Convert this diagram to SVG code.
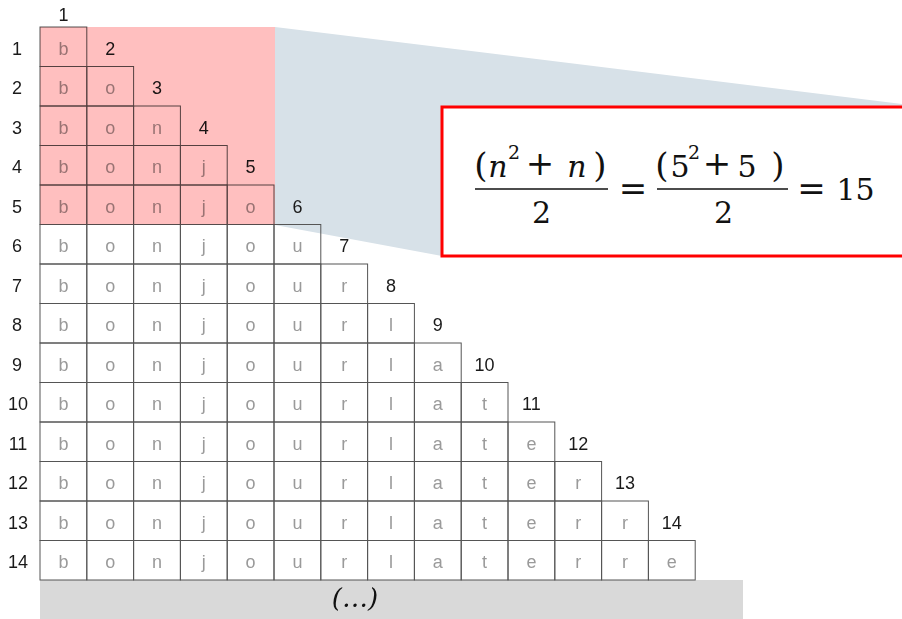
<svg xmlns="http://www.w3.org/2000/svg" width="902" height="619" viewBox="0 0 902 619">
<style>
.cell{fill:none;stroke:#555;stroke-width:1}
.ch{font-family:"Liberation Sans",Arial,sans-serif;font-size:18px;fill:#9a9a9a;text-anchor:middle}
.lb{font-family:"Liberation Sans",Arial,sans-serif;font-size:18px;fill:#1a1a1a;text-anchor:middle}
.m{font-family:"DejaVu Serif",serif;font-size:30px;fill:#111;text-anchor:middle}
.i{font-style:italic}
.p{font-size:34px}
.op{font-size:34px}
.sup{font-size:19px}
.bar{stroke:#111;stroke-width:1.6}
</style>
<rect width="902" height="619" fill="#fff"/>
<g id="zoom-wedge"><polygon points="275,27 902,104 902,256 442,256 275,225" fill="#d7e1e8"/></g>
<g id="ellipsis-bar"><rect x="40" y="580" width="703" height="39" fill="#d9d9d9"/><text x="355" y="607" font-family="DejaVu Serif,serif" font-style="italic" font-size="26" text-anchor="middle" fill="#111">(…)</text></g>
<g id="grid">
<g id="row1"><rect class="cell" x="40" y="27" width="46.8" height="39.5"/><text class="ch" x="63.4" y="54.5">b</text></g>
<g id="row2"><rect class="cell" x="40" y="66.5" width="46.8" height="39.5"/><rect class="cell" x="86.8" y="66.5" width="46.8" height="39.5"/><text class="ch" x="63.4" y="94">b</text><text class="ch" x="110.2" y="94">o</text></g>
<g id="row3"><rect class="cell" x="40" y="106" width="46.8" height="39.5"/><rect class="cell" x="86.8" y="106" width="46.8" height="39.5"/><rect class="cell" x="133.6" y="106" width="46.8" height="39.5"/><text class="ch" x="63.4" y="133.5">b</text><text class="ch" x="110.2" y="133.5">o</text><text class="ch" x="157" y="133.5">n</text></g>
<g id="row4"><rect class="cell" x="40" y="145.5" width="46.8" height="39.5"/><rect class="cell" x="86.8" y="145.5" width="46.8" height="39.5"/><rect class="cell" x="133.6" y="145.5" width="46.8" height="39.5"/><rect class="cell" x="180.4" y="145.5" width="46.8" height="39.5"/><text class="ch" x="63.4" y="173">b</text><text class="ch" x="110.2" y="173">o</text><text class="ch" x="157" y="173">n</text><text class="ch" x="203.8" y="173">j</text></g>
<g id="row5"><rect class="cell" x="40" y="185" width="46.8" height="39.5"/><rect class="cell" x="86.8" y="185" width="46.8" height="39.5"/><rect class="cell" x="133.6" y="185" width="46.8" height="39.5"/><rect class="cell" x="180.4" y="185" width="46.8" height="39.5"/><rect class="cell" x="227.2" y="185" width="46.8" height="39.5"/><text class="ch" x="63.4" y="212.5">b</text><text class="ch" x="110.2" y="212.5">o</text><text class="ch" x="157" y="212.5">n</text><text class="ch" x="203.8" y="212.5">j</text><text class="ch" x="250.6" y="212.5">o</text></g>
<g id="row6"><rect class="cell" x="40" y="224.5" width="46.8" height="39.5"/><rect class="cell" x="86.8" y="224.5" width="46.8" height="39.5"/><rect class="cell" x="133.6" y="224.5" width="46.8" height="39.5"/><rect class="cell" x="180.4" y="224.5" width="46.8" height="39.5"/><rect class="cell" x="227.2" y="224.5" width="46.8" height="39.5"/><rect class="cell" x="274" y="224.5" width="46.8" height="39.5"/><text class="ch" x="63.4" y="252">b</text><text class="ch" x="110.2" y="252">o</text><text class="ch" x="157" y="252">n</text><text class="ch" x="203.8" y="252">j</text><text class="ch" x="250.6" y="252">o</text><text class="ch" x="297.4" y="252">u</text></g>
<g id="row7"><rect class="cell" x="40" y="264" width="46.8" height="39.5"/><rect class="cell" x="86.8" y="264" width="46.8" height="39.5"/><rect class="cell" x="133.6" y="264" width="46.8" height="39.5"/><rect class="cell" x="180.4" y="264" width="46.8" height="39.5"/><rect class="cell" x="227.2" y="264" width="46.8" height="39.5"/><rect class="cell" x="274" y="264" width="46.8" height="39.5"/><rect class="cell" x="320.8" y="264" width="46.8" height="39.5"/><text class="ch" x="63.4" y="291.5">b</text><text class="ch" x="110.2" y="291.5">o</text><text class="ch" x="157" y="291.5">n</text><text class="ch" x="203.8" y="291.5">j</text><text class="ch" x="250.6" y="291.5">o</text><text class="ch" x="297.4" y="291.5">u</text><text class="ch" x="344.2" y="291.5">r</text></g>
<g id="row8"><rect class="cell" x="40" y="303.5" width="46.8" height="39.5"/><rect class="cell" x="86.8" y="303.5" width="46.8" height="39.5"/><rect class="cell" x="133.6" y="303.5" width="46.8" height="39.5"/><rect class="cell" x="180.4" y="303.5" width="46.8" height="39.5"/><rect class="cell" x="227.2" y="303.5" width="46.8" height="39.5"/><rect class="cell" x="274" y="303.5" width="46.8" height="39.5"/><rect class="cell" x="320.8" y="303.5" width="46.8" height="39.5"/><rect class="cell" x="367.6" y="303.5" width="46.8" height="39.5"/><text class="ch" x="63.4" y="331">b</text><text class="ch" x="110.2" y="331">o</text><text class="ch" x="157" y="331">n</text><text class="ch" x="203.8" y="331">j</text><text class="ch" x="250.6" y="331">o</text><text class="ch" x="297.4" y="331">u</text><text class="ch" x="344.2" y="331">r</text><text class="ch" x="391" y="331">l</text></g>
<g id="row9"><rect class="cell" x="40" y="343" width="46.8" height="39.5"/><rect class="cell" x="86.8" y="343" width="46.8" height="39.5"/><rect class="cell" x="133.6" y="343" width="46.8" height="39.5"/><rect class="cell" x="180.4" y="343" width="46.8" height="39.5"/><rect class="cell" x="227.2" y="343" width="46.8" height="39.5"/><rect class="cell" x="274" y="343" width="46.8" height="39.5"/><rect class="cell" x="320.8" y="343" width="46.8" height="39.5"/><rect class="cell" x="367.6" y="343" width="46.8" height="39.5"/><rect class="cell" x="414.4" y="343" width="46.8" height="39.5"/><text class="ch" x="63.4" y="370.5">b</text><text class="ch" x="110.2" y="370.5">o</text><text class="ch" x="157" y="370.5">n</text><text class="ch" x="203.8" y="370.5">j</text><text class="ch" x="250.6" y="370.5">o</text><text class="ch" x="297.4" y="370.5">u</text><text class="ch" x="344.2" y="370.5">r</text><text class="ch" x="391" y="370.5">l</text><text class="ch" x="437.8" y="370.5">a</text></g>
<g id="row10"><rect class="cell" x="40" y="382.5" width="46.8" height="39.5"/><rect class="cell" x="86.8" y="382.5" width="46.8" height="39.5"/><rect class="cell" x="133.6" y="382.5" width="46.8" height="39.5"/><rect class="cell" x="180.4" y="382.5" width="46.8" height="39.5"/><rect class="cell" x="227.2" y="382.5" width="46.8" height="39.5"/><rect class="cell" x="274" y="382.5" width="46.8" height="39.5"/><rect class="cell" x="320.8" y="382.5" width="46.8" height="39.5"/><rect class="cell" x="367.6" y="382.5" width="46.8" height="39.5"/><rect class="cell" x="414.4" y="382.5" width="46.8" height="39.5"/><rect class="cell" x="461.2" y="382.5" width="46.8" height="39.5"/><text class="ch" x="63.4" y="410">b</text><text class="ch" x="110.2" y="410">o</text><text class="ch" x="157" y="410">n</text><text class="ch" x="203.8" y="410">j</text><text class="ch" x="250.6" y="410">o</text><text class="ch" x="297.4" y="410">u</text><text class="ch" x="344.2" y="410">r</text><text class="ch" x="391" y="410">l</text><text class="ch" x="437.8" y="410">a</text><text class="ch" x="484.6" y="410">t</text></g>
<g id="row11"><rect class="cell" x="40" y="422" width="46.8" height="39.5"/><rect class="cell" x="86.8" y="422" width="46.8" height="39.5"/><rect class="cell" x="133.6" y="422" width="46.8" height="39.5"/><rect class="cell" x="180.4" y="422" width="46.8" height="39.5"/><rect class="cell" x="227.2" y="422" width="46.8" height="39.5"/><rect class="cell" x="274" y="422" width="46.8" height="39.5"/><rect class="cell" x="320.8" y="422" width="46.8" height="39.5"/><rect class="cell" x="367.6" y="422" width="46.8" height="39.5"/><rect class="cell" x="414.4" y="422" width="46.8" height="39.5"/><rect class="cell" x="461.2" y="422" width="46.8" height="39.5"/><rect class="cell" x="508" y="422" width="46.8" height="39.5"/><text class="ch" x="63.4" y="449.5">b</text><text class="ch" x="110.2" y="449.5">o</text><text class="ch" x="157" y="449.5">n</text><text class="ch" x="203.8" y="449.5">j</text><text class="ch" x="250.6" y="449.5">o</text><text class="ch" x="297.4" y="449.5">u</text><text class="ch" x="344.2" y="449.5">r</text><text class="ch" x="391" y="449.5">l</text><text class="ch" x="437.8" y="449.5">a</text><text class="ch" x="484.6" y="449.5">t</text><text class="ch" x="531.4" y="449.5">e</text></g>
<g id="row12"><rect class="cell" x="40" y="461.5" width="46.8" height="39.5"/><rect class="cell" x="86.8" y="461.5" width="46.8" height="39.5"/><rect class="cell" x="133.6" y="461.5" width="46.8" height="39.5"/><rect class="cell" x="180.4" y="461.5" width="46.8" height="39.5"/><rect class="cell" x="227.2" y="461.5" width="46.8" height="39.5"/><rect class="cell" x="274" y="461.5" width="46.8" height="39.5"/><rect class="cell" x="320.8" y="461.5" width="46.8" height="39.5"/><rect class="cell" x="367.6" y="461.5" width="46.8" height="39.5"/><rect class="cell" x="414.4" y="461.5" width="46.8" height="39.5"/><rect class="cell" x="461.2" y="461.5" width="46.8" height="39.5"/><rect class="cell" x="508" y="461.5" width="46.8" height="39.5"/><rect class="cell" x="554.8" y="461.5" width="46.8" height="39.5"/><text class="ch" x="63.4" y="489">b</text><text class="ch" x="110.2" y="489">o</text><text class="ch" x="157" y="489">n</text><text class="ch" x="203.8" y="489">j</text><text class="ch" x="250.6" y="489">o</text><text class="ch" x="297.4" y="489">u</text><text class="ch" x="344.2" y="489">r</text><text class="ch" x="391" y="489">l</text><text class="ch" x="437.8" y="489">a</text><text class="ch" x="484.6" y="489">t</text><text class="ch" x="531.4" y="489">e</text><text class="ch" x="578.2" y="489">r</text></g>
<g id="row13"><rect class="cell" x="40" y="501" width="46.8" height="39.5"/><rect class="cell" x="86.8" y="501" width="46.8" height="39.5"/><rect class="cell" x="133.6" y="501" width="46.8" height="39.5"/><rect class="cell" x="180.4" y="501" width="46.8" height="39.5"/><rect class="cell" x="227.2" y="501" width="46.8" height="39.5"/><rect class="cell" x="274" y="501" width="46.8" height="39.5"/><rect class="cell" x="320.8" y="501" width="46.8" height="39.5"/><rect class="cell" x="367.6" y="501" width="46.8" height="39.5"/><rect class="cell" x="414.4" y="501" width="46.8" height="39.5"/><rect class="cell" x="461.2" y="501" width="46.8" height="39.5"/><rect class="cell" x="508" y="501" width="46.8" height="39.5"/><rect class="cell" x="554.8" y="501" width="46.8" height="39.5"/><rect class="cell" x="601.6" y="501" width="46.8" height="39.5"/><text class="ch" x="63.4" y="528.5">b</text><text class="ch" x="110.2" y="528.5">o</text><text class="ch" x="157" y="528.5">n</text><text class="ch" x="203.8" y="528.5">j</text><text class="ch" x="250.6" y="528.5">o</text><text class="ch" x="297.4" y="528.5">u</text><text class="ch" x="344.2" y="528.5">r</text><text class="ch" x="391" y="528.5">l</text><text class="ch" x="437.8" y="528.5">a</text><text class="ch" x="484.6" y="528.5">t</text><text class="ch" x="531.4" y="528.5">e</text><text class="ch" x="578.2" y="528.5">r</text><text class="ch" x="625" y="528.5">r</text></g>
<g id="row14"><rect class="cell" x="40" y="540.5" width="46.8" height="39.5"/><rect class="cell" x="86.8" y="540.5" width="46.8" height="39.5"/><rect class="cell" x="133.6" y="540.5" width="46.8" height="39.5"/><rect class="cell" x="180.4" y="540.5" width="46.8" height="39.5"/><rect class="cell" x="227.2" y="540.5" width="46.8" height="39.5"/><rect class="cell" x="274" y="540.5" width="46.8" height="39.5"/><rect class="cell" x="320.8" y="540.5" width="46.8" height="39.5"/><rect class="cell" x="367.6" y="540.5" width="46.8" height="39.5"/><rect class="cell" x="414.4" y="540.5" width="46.8" height="39.5"/><rect class="cell" x="461.2" y="540.5" width="46.8" height="39.5"/><rect class="cell" x="508" y="540.5" width="46.8" height="39.5"/><rect class="cell" x="554.8" y="540.5" width="46.8" height="39.5"/><rect class="cell" x="601.6" y="540.5" width="46.8" height="39.5"/><rect class="cell" x="648.4" y="540.5" width="46.8" height="39.5"/><text class="ch" x="63.4" y="568">b</text><text class="ch" x="110.2" y="568">o</text><text class="ch" x="157" y="568">n</text><text class="ch" x="203.8" y="568">j</text><text class="ch" x="250.6" y="568">o</text><text class="ch" x="297.4" y="568">u</text><text class="ch" x="344.2" y="568">r</text><text class="ch" x="391" y="568">l</text><text class="ch" x="437.8" y="568">a</text><text class="ch" x="484.6" y="568">t</text><text class="ch" x="531.4" y="568">e</text><text class="ch" x="578.2" y="568">r</text><text class="ch" x="625" y="568">r</text><text class="ch" x="671.8" y="568">e</text></g>
</g>
<g id="row-labels">
<text class="lb" x="17" y="54.5">1</text><text class="lb" x="17" y="94">2</text><text class="lb" x="17" y="133.5">3</text><text class="lb" x="17" y="173">4</text><text class="lb" x="17" y="212.5">5</text><text class="lb" x="17" y="252">6</text><text class="lb" x="17" y="291.5">7</text><text class="lb" x="17" y="331">8</text><text class="lb" x="17" y="370.5">9</text><text class="lb" x="18" y="410">10</text><text class="lb" x="18" y="449.5">11</text><text class="lb" x="18" y="489">12</text><text class="lb" x="18" y="528.5">13</text><text class="lb" x="18" y="568">14</text>
</g>
<g id="column-labels">
<text class="lb" x="63.4" y="21">1</text><text class="lb" x="110.2" y="54.5">2</text><text class="lb" x="157" y="94">3</text><text class="lb" x="203.8" y="133.5">4</text><text class="lb" x="250.6" y="173">5</text><text class="lb" x="297.4" y="212.5">6</text><text class="lb" x="344.2" y="252">7</text><text class="lb" x="391" y="291.5">8</text><text class="lb" x="437.8" y="331">9</text><text class="lb" x="484.6" y="370.5">10</text><text class="lb" x="531.4" y="410">11</text><text class="lb" x="578.2" y="449.5">12</text><text class="lb" x="625" y="489">13</text><text class="lb" x="671.8" y="528.5">14</text>
</g>
<g id="highlight"><rect x="40" y="27" width="235" height="197.5" fill="#ffbfbf" style="mix-blend-mode:multiply"/></g>
<g id="formula-box">
<rect x="442" y="107" width="470" height="149" fill="#fff" stroke="#f00" stroke-width="3"/>
<text class="m"><tspan class="p" x="481" y="177">(</tspan><tspan class="i" x="498" y="177">n</tspan><tspan class="sup" x="514" y="159">2</tspan><tspan class="op" x="540" y="175">+</tspan><tspan class="i" x="577" y="177">n</tspan><tspan class="p" x="600" y="177">)</tspan></text>
<line class="bar" x1="475" y1="189" x2="608" y2="189"/>
<text class="m" x="541.5" y="223">2</text>
<text class="m op" x="633" y="200">=</text>
<text class="m"><tspan class="p" x="662" y="177">(</tspan><tspan x="680" y="177">5</tspan><tspan class="sup" x="694" y="159">2</tspan><tspan class="op" x="717" y="175">+</tspan><tspan x="747" y="177">5</tspan><tspan class="p" x="778" y="177">)</tspan></text>
<line class="bar" x1="657" y1="189" x2="788" y2="189"/>
<text class="m" x="723.5" y="223">2</text>
<text class="m op" x="811.5" y="200">=</text>
<text class="m" x="855.5" y="200">15</text>
</g>
</svg>
